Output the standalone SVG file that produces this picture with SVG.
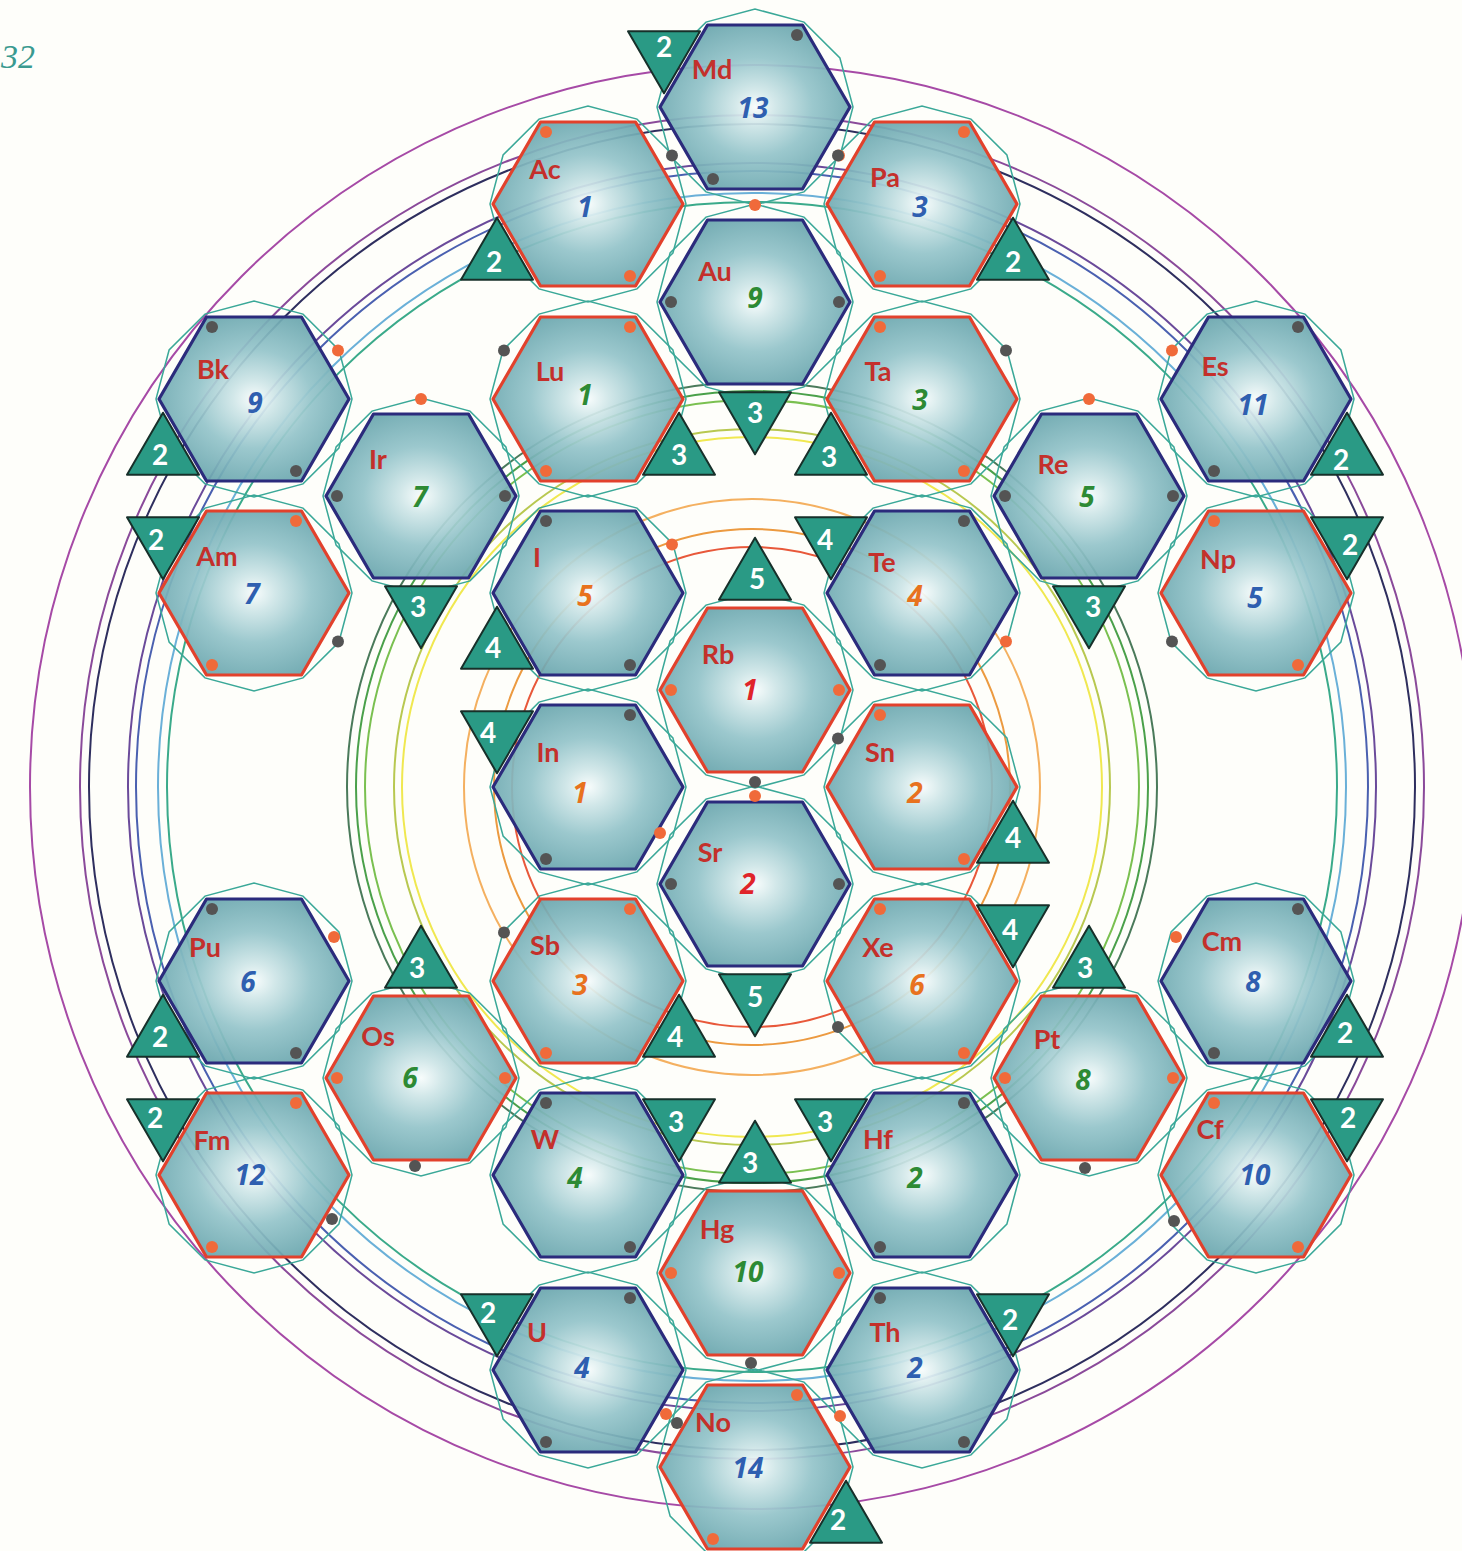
<svg xmlns="http://www.w3.org/2000/svg" xmlns:xlink="http://www.w3.org/1999/xlink" width="1462" height="1551" viewBox="0 0 1462 1551">
<defs>
<radialGradient id="hg" cx="50%" cy="50%" r="55%">
<stop offset="0" stop-color="#f7fcfc"/>
<stop offset="0.2" stop-color="#cfe6e8"/>
<stop offset="0.55" stop-color="#94c4ca"/>
<stop offset="1" stop-color="#6aa6ae"/>
</radialGradient>
<polygon id="hex" points="-95,0 -47.5,-82 47.5,-82 95,0 47.5,82 -47.5,82"/>
<polygon id="dod" points="98,0 84.9,-49 49,-84.9 0,-98 -49,-84.9 -84.9,-49 -98,0 -84.9,49 -49,84.9 0,98 49,84.9 84.9,49"/>
<polygon id="tu" points="0,-41.3 36,20.7 -36,20.7"/>
<polygon id="td" points="-36,-20.7 36,-20.7 0,41.3"/>
</defs>
<style>
.ring{fill:none;stroke-width:2}
.halo use{fill:none;stroke:#3aa898;stroke-width:1.5}
.hx{fill:url(#hg);fill-opacity:0.93;stroke-width:3.2;stroke-linejoin:round}
.nv{stroke:#2b2b7c}
.rd{stroke:#e2412c}
.dg{fill:#545454}
.do{fill:#f06a3a}
.lbl{font-family:Lato,"Open Sans",sans-serif;font-weight:700;font-size:27px;fill:#c4302b;text-anchor:middle}
.num{font-family:"Open Sans",Lato,sans-serif;font-weight:700;font-style:italic;font-size:28px;text-anchor:middle}
.b{fill:#2f5fb0}.g{fill:#2d8a34}.o{fill:#e8721e}.r{fill:#e0242a}
.tri use{fill:#2a9a85;stroke:#17302a;stroke-width:2;stroke-linejoin:round}
.tri text{font-family:Lato,"Open Sans",sans-serif;font-weight:700;font-size:28px;fill:#ffffff;text-anchor:middle}
</style>
<rect width="1462" height="1551" fill="#fefefa"/>
<text x="1" y="68" font-family="'Liberation Serif',serif" font-style="italic" font-size="34" fill="#3a9a90">32</text>
<g id="connectors">
<circle class="ring" cx="752" cy="787" r="722" stroke="#a64aa6"/>
<circle class="ring" cx="752" cy="787" r="672" stroke="#8a4a9a"/>
<circle class="ring" cx="752" cy="787" r="663" stroke="#2e2e5e"/>
<circle class="ring" cx="752" cy="787" r="624" stroke="#6a4a9a"/>
<circle class="ring" cx="752" cy="787" r="616" stroke="#4a60b0"/>
<circle class="ring" cx="752" cy="787" r="594" stroke="#6ab0d8"/>
<circle class="ring" cx="752" cy="787" r="585" stroke="#3aaa8a"/>
<circle class="ring" cx="752" cy="787" r="405" stroke="#4a7a5a"/>
<circle class="ring" cx="752" cy="787" r="396" stroke="#4aa04a"/>
<circle class="ring" cx="752" cy="787" r="387" stroke="#7ac050"/>
<circle class="ring" cx="752" cy="787" r="358" stroke="#b8c850"/>
<circle class="ring" cx="752" cy="787" r="350" stroke="#f0e850"/>
<circle class="ring" cx="752" cy="787" r="288" stroke="#f4b060"/>
<circle class="ring" cx="752" cy="787" r="258" stroke="#ec9a40"/>
<circle class="ring" cx="752" cy="787" r="240" stroke="#e8583a"/>
</g>
<g id="halos" class="halo">
<use xlink:href="#dod" href="#dod" x="755" y="107"/>
<use xlink:href="#dod" href="#dod" x="588" y="204"/>
<use xlink:href="#dod" href="#dod" x="922" y="204"/>
<use xlink:href="#dod" href="#dod" x="755" y="302"/>
<use xlink:href="#dod" href="#dod" x="254" y="399"/>
<use xlink:href="#dod" href="#dod" x="588" y="399"/>
<use xlink:href="#dod" href="#dod" x="922" y="399"/>
<use xlink:href="#dod" href="#dod" x="1256" y="399"/>
<use xlink:href="#dod" href="#dod" x="421" y="496"/>
<use xlink:href="#dod" href="#dod" x="1089" y="496"/>
<use xlink:href="#dod" href="#dod" x="254" y="593"/>
<use xlink:href="#dod" href="#dod" x="588" y="593"/>
<use xlink:href="#dod" href="#dod" x="922" y="593"/>
<use xlink:href="#dod" href="#dod" x="1256" y="593"/>
<use xlink:href="#dod" href="#dod" x="755" y="690"/>
<use xlink:href="#dod" href="#dod" x="588" y="787"/>
<use xlink:href="#dod" href="#dod" x="922" y="787"/>
<use xlink:href="#dod" href="#dod" x="755" y="884"/>
<use xlink:href="#dod" href="#dod" x="254" y="981"/>
<use xlink:href="#dod" href="#dod" x="588" y="981"/>
<use xlink:href="#dod" href="#dod" x="922" y="981"/>
<use xlink:href="#dod" href="#dod" x="1256" y="981"/>
<use xlink:href="#dod" href="#dod" x="421" y="1078"/>
<use xlink:href="#dod" href="#dod" x="1089" y="1078"/>
<use xlink:href="#dod" href="#dod" x="254" y="1175"/>
<use xlink:href="#dod" href="#dod" x="588" y="1175"/>
<use xlink:href="#dod" href="#dod" x="922" y="1175"/>
<use xlink:href="#dod" href="#dod" x="1256" y="1175"/>
<use xlink:href="#dod" href="#dod" x="755" y="1273"/>
<use xlink:href="#dod" href="#dod" x="588" y="1370"/>
<use xlink:href="#dod" href="#dod" x="922" y="1370"/>
<use xlink:href="#dod" href="#dod" x="755" y="1467"/>
</g>
<g id="nodes">
<g id="node-Md" transform="translate(755,107)"><use href="#hex" xlink:href="#hex" class="hx nv"/><circle class="dg" cx="42" cy="-72" r="6"/><circle class="dg" cx="-42" cy="72" r="6"/><circle class="do" cx="84" cy="48.5" r="6"/><text class="lbl" x="-43" y="-28">Md</text><text class="num b" x="-2" y="11">13</text></g>
<g id="node-Ac" transform="translate(588,204)"><use href="#hex" xlink:href="#hex" class="hx rd"/><circle class="do" cx="-42" cy="-72" r="6"/><circle class="do" cx="42" cy="72" r="6"/><circle class="dg" cx="84" cy="-48.5" r="6"/><text class="lbl" x="-43" y="-25">Ac</text><text class="num b" x="-3" y="13">1</text></g>
<g id="node-Pa" transform="translate(922,204)"><use href="#hex" xlink:href="#hex" class="hx rd"/><circle class="do" cx="42" cy="-72" r="6"/><circle class="do" cx="-42" cy="72" r="6"/><circle class="dg" cx="-84" cy="-48.5" r="6"/><text class="lbl" x="-37" y="-17">Pa</text><text class="num b" x="-2" y="13">3</text></g>
<g id="node-Au" transform="translate(755,302)"><use href="#hex" xlink:href="#hex" class="hx nv"/><circle class="dg" cx="-84" cy="0" r="6"/><circle class="dg" cx="84" cy="0" r="6"/><circle class="do" cx="0" cy="-97" r="6"/><text class="lbl" x="-40" y="-21">Au</text><text class="num g" x="0" y="6">9</text></g>
<g id="node-Bk" transform="translate(254,399)"><use href="#hex" xlink:href="#hex" class="hx nv"/><circle class="dg" cx="-42" cy="-72" r="6"/><circle class="dg" cx="42" cy="72" r="6"/><circle class="do" cx="84" cy="-48.5" r="6"/><text class="lbl" x="-41" y="-20">Bk</text><text class="num b" x="1" y="14">9</text></g>
<g id="node-Lu" transform="translate(588,399)"><use href="#hex" xlink:href="#hex" class="hx rd"/><circle class="do" cx="42" cy="-72" r="6"/><circle class="do" cx="-42" cy="72" r="6"/><circle class="dg" cx="-84" cy="-48.5" r="6"/><text class="lbl" x="-38" y="-18">Lu</text><text class="num g" x="-3" y="6">1</text></g>
<g id="node-Ta" transform="translate(922,399)"><use href="#hex" xlink:href="#hex" class="hx rd"/><circle class="do" cx="-42" cy="-72" r="6"/><circle class="do" cx="42" cy="72" r="6"/><circle class="dg" cx="84" cy="-48.5" r="6"/><text class="lbl" x="-44" y="-18">Ta</text><text class="num g" x="-2" y="11">3</text></g>
<g id="node-Es" transform="translate(1256,399)"><use href="#hex" xlink:href="#hex" class="hx nv"/><circle class="dg" cx="42" cy="-72" r="6"/><circle class="dg" cx="-42" cy="72" r="6"/><circle class="do" cx="-84" cy="-48.5" r="6"/><text class="lbl" x="-41" y="-23">Es</text><text class="num b" x="-3" y="16">11</text></g>
<g id="node-Ir" transform="translate(421,496)"><use href="#hex" xlink:href="#hex" class="hx nv"/><circle class="dg" cx="-84" cy="0" r="6"/><circle class="dg" cx="84" cy="0" r="6"/><circle class="do" cx="0" cy="-97" r="6"/><text class="lbl" x="-43" y="-27">Ir</text><text class="num g" x="-1" y="11">7</text></g>
<g id="node-Re" transform="translate(1089,496)"><use href="#hex" xlink:href="#hex" class="hx nv"/><circle class="dg" cx="-84" cy="0" r="6"/><circle class="dg" cx="84" cy="0" r="6"/><circle class="do" cx="0" cy="-97" r="6"/><text class="lbl" x="-36" y="-22">Re</text><text class="num g" x="-2" y="11">5</text></g>
<g id="node-Am" transform="translate(254,593)"><use href="#hex" xlink:href="#hex" class="hx rd"/><circle class="do" cx="42" cy="-72" r="6"/><circle class="do" cx="-42" cy="72" r="6"/><circle class="dg" cx="84" cy="48.5" r="6"/><text class="lbl" x="-37" y="-27">Am</text><text class="num b" x="-2" y="11">7</text></g>
<g id="node-I" transform="translate(588,593)"><use href="#hex" xlink:href="#hex" class="hx nv"/><circle class="dg" cx="-42" cy="-72" r="6"/><circle class="dg" cx="42" cy="72" r="6"/><circle class="do" cx="84" cy="-48.5" r="6"/><text class="lbl" x="-51" y="-26">I</text><text class="num o" x="-3" y="13">5</text></g>
<g id="node-Te" transform="translate(922,593)"><use href="#hex" xlink:href="#hex" class="hx nv"/><circle class="dg" cx="42" cy="-72" r="6"/><circle class="dg" cx="-42" cy="72" r="6"/><circle class="do" cx="84" cy="48.5" r="6"/><text class="lbl" x="-40" y="-21">Te</text><text class="num o" x="-7" y="13">4</text></g>
<g id="node-Np" transform="translate(1256,593)"><use href="#hex" xlink:href="#hex" class="hx rd"/><circle class="do" cx="-42" cy="-72" r="6"/><circle class="do" cx="42" cy="72" r="6"/><circle class="dg" cx="-84" cy="48.5" r="6"/><text class="lbl" x="-38" y="-24">Np</text><text class="num b" x="-1" y="15">5</text></g>
<g id="node-Rb" transform="translate(755,690)"><use href="#hex" xlink:href="#hex" class="hx rd"/><circle class="do" cx="-84" cy="0" r="6"/><circle class="do" cx="84" cy="0" r="6"/><circle class="dg" cx="0" cy="92" r="6"/><text class="lbl" x="-37" y="-26">Rb</text><text class="num r" x="-5" y="10">1</text></g>
<g id="node-In" transform="translate(588,787)"><use href="#hex" xlink:href="#hex" class="hx nv"/><circle class="dg" cx="42" cy="-72" r="6"/><circle class="dg" cx="-42" cy="72" r="6"/><circle class="do" cx="72" cy="46" r="6"/><text class="lbl" x="-40" y="-25">In</text><text class="num o" x="-8" y="16">1</text></g>
<g id="node-Sn" transform="translate(922,787)"><use href="#hex" xlink:href="#hex" class="hx rd"/><circle class="do" cx="-42" cy="-72" r="6"/><circle class="do" cx="42" cy="72" r="6"/><circle class="dg" cx="-84" cy="-48.5" r="6"/><text class="lbl" x="-42" y="-25">Sn</text><text class="num o" x="-7" y="16">2</text></g>
<g id="node-Sr" transform="translate(755,884)"><use href="#hex" xlink:href="#hex" class="hx nv"/><circle class="dg" cx="-84" cy="0" r="6"/><circle class="dg" cx="84" cy="0" r="6"/><circle class="do" cx="0" cy="-88" r="6"/><text class="lbl" x="-45" y="-22">Sr</text><text class="num r" x="-7" y="10">2</text></g>
<g id="node-Pu" transform="translate(254,981)"><use href="#hex" xlink:href="#hex" class="hx nv"/><circle class="dg" cx="-42" cy="-72" r="6"/><circle class="dg" cx="42" cy="72" r="6"/><circle class="do" cx="80" cy="-44" r="6"/><text class="lbl" x="-49" y="-24">Pu</text><text class="num b" x="-6" y="11">6</text></g>
<g id="node-Sb" transform="translate(588,981)"><use href="#hex" xlink:href="#hex" class="hx rd"/><circle class="do" cx="42" cy="-72" r="6"/><circle class="do" cx="-42" cy="72" r="6"/><circle class="dg" cx="-84" cy="-48.5" r="6"/><text class="lbl" x="-43" y="-26">Sb</text><text class="num o" x="-8" y="14">3</text></g>
<g id="node-Xe" transform="translate(922,981)"><use href="#hex" xlink:href="#hex" class="hx rd"/><circle class="do" cx="-42" cy="-72" r="6"/><circle class="do" cx="42" cy="72" r="6"/><circle class="dg" cx="-84" cy="46" r="6"/><text class="lbl" x="-44" y="-24">Xe</text><text class="num o" x="-5" y="14">6</text></g>
<g id="node-Cm" transform="translate(1256,981)"><use href="#hex" xlink:href="#hex" class="hx nv"/><circle class="dg" cx="42" cy="-72" r="6"/><circle class="dg" cx="-42" cy="72" r="6"/><circle class="do" cx="-80" cy="-44" r="6"/><text class="lbl" x="-34" y="-30">Cm</text><text class="num b" x="-3" y="11">8</text></g>
<g id="node-Os" transform="translate(421,1078)"><use href="#hex" xlink:href="#hex" class="hx rd"/><circle class="do" cx="-84" cy="0" r="6"/><circle class="do" cx="84" cy="0" r="6"/><circle class="dg" cx="-6" cy="88" r="6"/><text class="lbl" x="-43" y="-32">Os</text><text class="num g" x="-11" y="10">6</text></g>
<g id="node-Pt" transform="translate(1089,1078)"><use href="#hex" xlink:href="#hex" class="hx rd"/><circle class="do" cx="-84" cy="0" r="6"/><circle class="do" cx="84" cy="0" r="6"/><circle class="dg" cx="-4" cy="90" r="6"/><text class="lbl" x="-42" y="-29">Pt</text><text class="num g" x="-6" y="12">8</text></g>
<g id="node-Fm" transform="translate(254,1175)"><use href="#hex" xlink:href="#hex" class="hx rd"/><circle class="do" cx="42" cy="-72" r="6"/><circle class="do" cx="-42" cy="72" r="6"/><circle class="dg" cx="78" cy="44" r="6"/><text class="lbl" x="-42" y="-25">Fm</text><text class="num b" x="-4" y="10">12</text></g>
<g id="node-W" transform="translate(588,1175)"><use href="#hex" xlink:href="#hex" class="hx nv"/><circle class="dg" cx="-42" cy="-72" r="6"/><circle class="dg" cx="42" cy="72" r="6"/><text class="lbl" x="-43" y="-26">W</text><text class="num g" x="-13" y="13">4</text></g>
<g id="node-Hf" transform="translate(922,1175)"><use href="#hex" xlink:href="#hex" class="hx nv"/><circle class="dg" cx="42" cy="-72" r="6"/><circle class="dg" cx="-42" cy="72" r="6"/><text class="lbl" x="-44" y="-26">Hf</text><text class="num g" x="-7" y="13">2</text></g>
<g id="node-Cf" transform="translate(1256,1175)"><use href="#hex" xlink:href="#hex" class="hx rd"/><circle class="do" cx="-42" cy="-72" r="6"/><circle class="do" cx="42" cy="72" r="6"/><circle class="dg" cx="-82" cy="46" r="6"/><text class="lbl" x="-46" y="-36">Cf</text><text class="num b" x="-1" y="10">10</text></g>
<g id="node-Hg" transform="translate(755,1273)"><use href="#hex" xlink:href="#hex" class="hx rd"/><circle class="do" cx="-84" cy="0" r="6"/><circle class="do" cx="84" cy="0" r="6"/><circle class="dg" cx="-4" cy="90" r="6"/><text class="lbl" x="-38" y="-34">Hg</text><text class="num g" x="-7" y="9">10</text></g>
<g id="node-U" transform="translate(588,1370)"><use href="#hex" xlink:href="#hex" class="hx nv"/><circle class="dg" cx="42" cy="-72" r="6"/><circle class="dg" cx="-42" cy="72" r="6"/><circle class="do" cx="78" cy="44" r="6"/><text class="lbl" x="-51" y="-28">U</text><text class="num b" x="-6" y="8">4</text></g>
<g id="node-Th" transform="translate(922,1370)"><use href="#hex" xlink:href="#hex" class="hx nv"/><circle class="dg" cx="-42" cy="-72" r="6"/><circle class="dg" cx="42" cy="72" r="6"/><circle class="do" cx="-82" cy="46" r="6"/><text class="lbl" x="-37" y="-28">Th</text><text class="num b" x="-7" y="8">2</text></g>
<g id="node-No" transform="translate(755,1467)"><use href="#hex" xlink:href="#hex" class="hx rd"/><circle class="do" cx="42" cy="-72" r="6"/><circle class="do" cx="-42" cy="72" r="6"/><circle class="dg" cx="-78" cy="-44" r="6"/><text class="lbl" x="-42" y="-35">No</text><text class="num b" x="-7" y="11">14</text></g>
</g>
<g id="triangles" class="tri">
<g transform="translate(664,52)"><use href="#td" xlink:href="#td"/><text x="0" y="5">2</text></g>
<g transform="translate(497,259)"><use href="#tu" xlink:href="#tu"/><text x="-3" y="13">2</text></g>
<g transform="translate(1013,259)"><use href="#tu" xlink:href="#tu"/><text x="0" y="13">2</text></g>
<g transform="translate(755,413)"><use href="#td" xlink:href="#td"/><text x="0" y="10">3</text></g>
<g transform="translate(679,454)"><use href="#tu" xlink:href="#tu"/><text x="0" y="11">3</text></g>
<g transform="translate(831,454)"><use href="#tu" xlink:href="#tu"/><text x="-2" y="13">3</text></g>
<g transform="translate(163,454)"><use href="#tu" xlink:href="#tu"/><text x="-3" y="11">2</text></g>
<g transform="translate(1347,454)"><use href="#tu" xlink:href="#tu"/><text x="-6" y="16">2</text></g>
<g transform="translate(163,538)"><use href="#td" xlink:href="#td"/><text x="-7" y="12">2</text></g>
<g transform="translate(421,607)"><use href="#td" xlink:href="#td"/><text x="-3" y="10">3</text></g>
<g transform="translate(497,648)"><use href="#tu" xlink:href="#tu"/><text x="-4" y="10">4</text></g>
<g transform="translate(755,579)"><use href="#tu" xlink:href="#tu"/><text x="2" y="10">5</text></g>
<g transform="translate(831,538)"><use href="#td" xlink:href="#td"/><text x="-6" y="12">4</text></g>
<g transform="translate(1089,607)"><use href="#td" xlink:href="#td"/><text x="4" y="10">3</text></g>
<g transform="translate(1347,538)"><use href="#td" xlink:href="#td"/><text x="3" y="17">2</text></g>
<g transform="translate(497,732)"><use href="#td" xlink:href="#td"/><text x="-9" y="11">4</text></g>
<g transform="translate(1013,842)"><use href="#tu" xlink:href="#tu"/><text x="0" y="6">4</text></g>
<g transform="translate(1013,926)"><use href="#td" xlink:href="#td"/><text x="-3" y="14">4</text></g>
<g transform="translate(755,995)"><use href="#td" xlink:href="#td"/><text x="0" y="12">5</text></g>
<g transform="translate(421,967)"><use href="#tu" xlink:href="#tu"/><text x="-4" y="11">3</text></g>
<g transform="translate(1089,967)"><use href="#tu" xlink:href="#tu"/><text x="-4" y="11">3</text></g>
<g transform="translate(163,1036)"><use href="#tu" xlink:href="#tu"/><text x="-3" y="11">2</text></g>
<g transform="translate(679,1036)"><use href="#tu" xlink:href="#tu"/><text x="-4" y="11">4</text></g>
<g transform="translate(1347,1036)"><use href="#tu" xlink:href="#tu"/><text x="-2" y="7">2</text></g>
<g transform="translate(163,1120)"><use href="#td" xlink:href="#td"/><text x="-8" y="8">2</text></g>
<g transform="translate(831,1120)"><use href="#td" xlink:href="#td"/><text x="-6" y="12">3</text></g>
<g transform="translate(679,1120)"><use href="#td" xlink:href="#td"/><text x="-3" y="12">3</text></g>
<g transform="translate(755,1162)"><use href="#tu" xlink:href="#tu"/><text x="-5" y="11">3</text></g>
<g transform="translate(1347,1120)"><use href="#td" xlink:href="#td"/><text x="1" y="8">2</text></g>
<g transform="translate(497,1315)"><use href="#td" xlink:href="#td"/><text x="-9" y="8">2</text></g>
<g transform="translate(1013,1315)"><use href="#td" xlink:href="#td"/><text x="-3" y="15">2</text></g>
<g transform="translate(846,1522)"><use href="#tu" xlink:href="#tu"/><text x="-8" y="8">2</text></g>
</g>
</svg>
